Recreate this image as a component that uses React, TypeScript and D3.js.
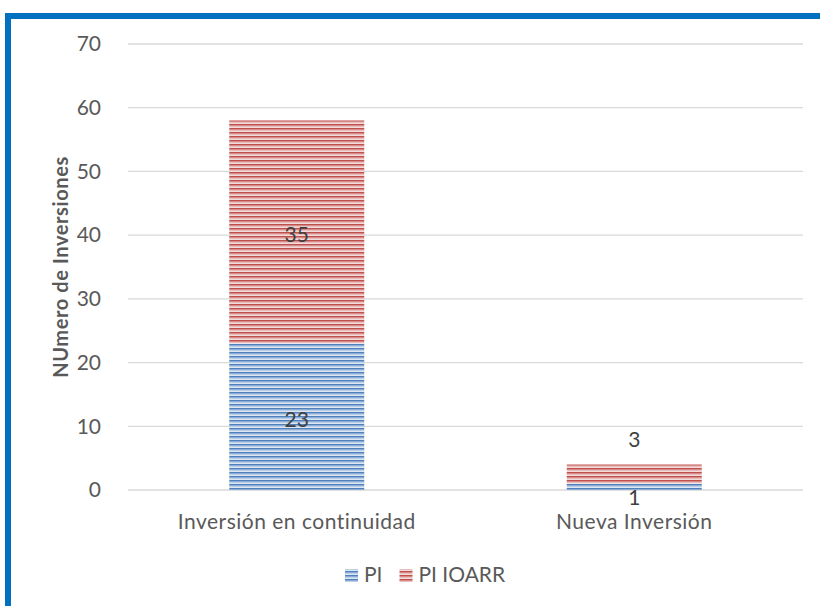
import { useRef, useEffect } from 'react';
import * as d3 from 'd3';

const categories = ['Inversión en continuidad', 'Nueva Inversión'];
const seriesNames = ['PI', 'PI IOARR'];
const piValues = [23, 1];
const ioarrValues = [35, 3];
const yTicks = [0, 10, 20, 30, 40, 50, 60, 70];

const colors = {
  PI: { dark: '#4F81BD', light: '#DCE6F2', mid: '#8EAEDA' },
  'PI IOARR': { dark: '#C0504D', light: '#F2DCDB', mid: '#DA8F8D' },
};

const W = 820;
const H = 606;

export default function App() {
  const svgRef = useRef<SVGSVGElement>(null);

  useEffect(() => {
    const svg = d3.select(svgRef.current);
    svg.selectAll('*').remove();

    const font = "Lato, 'Open Sans', sans-serif";
    const textColor = '#595959';
    const margin = { top: 44, right: 17, bottom: 116, left: 128 };
    const plotW = W - margin.left - margin.right;
    const plotH = H - margin.top - margin.bottom;

    // stripe patterns
    const defs = svg.append('defs');
    for (const name of seriesNames) {
      const c = colors[name as keyof typeof colors];
      const p = defs
        .append('pattern')
        .attr('id', `stripe-${name.replace(/\s/g, '')}`)
        .attr('patternUnits', 'userSpaceOnUse')
        .attr('width', 8)
        .attr('height', 4);
      p.append('rect').attr('width', 8).attr('height', 4).attr('fill', c.light);
      p.append('rect').attr('y', 0).attr('width', 8).attr('height', 1.6).attr('fill', c.dark);
      p.append('rect').attr('y', 1.6).attr('width', 8).attr('height', 0.8).attr('fill', c.mid);
    }

    // frame
    svg
      .append('rect')
      .attr('x', 8)
      .attr('y', 16)
      .attr('width', W + 20)
      .attr('height', H + 20)
      .attr('fill', 'white')
      .attr('stroke', '#0070C0')
      .attr('stroke-width', 6);

    const g = svg.append('g').attr('transform', `translate(${margin.left},${margin.top})`);

    const x = d3.scaleBand().domain(categories).range([0, plotW]).paddingInner(0.6).paddingOuter(0.3);
    const y = d3.scaleLinear().domain([0, 70]).range([plotH, 0]);

    // gridlines
    g.selectAll('line.grid')
      .data(yTicks)
      .join('line')
      .attr('class', 'grid')
      .attr('x1', 0)
      .attr('x2', plotW)
      .attr('y1', (d) => y(d))
      .attr('y2', (d) => y(d))
      .attr('stroke', '#D9D9D9')
      .attr('stroke-width', 1.3);

    // tick labels
    g.selectAll('text.tick')
      .data(yTicks)
      .join('text')
      .attr('class', 'tick')
      .attr('x', -27)
      .attr('y', (d) => y(d))
      .attr('dy', '0.35em')
      .attr('text-anchor', 'end')
      .attr('fill', textColor)
      .attr('font-size', 21)
      .attr('font-family', font)
      .text((d) => d);

    // stacked bars
    const stack = categories.map((cat, i) => ({
      cat,
      segs: [
        { name: 'PI', y0: 0, y1: piValues[i], v: piValues[i] },
        { name: 'PI IOARR', y0: piValues[i], y1: piValues[i] + ioarrValues[i], v: ioarrValues[i] },
      ],
    }));

    for (const s of stack) {
      const bx = x(s.cat) ?? 0;
      for (const seg of s.segs) {
        g.append('rect')
          .attr('x', bx)
          .attr('y', y(seg.y1))
          .attr('width', x.bandwidth())
          .attr('height', y(seg.y0) - y(seg.y1))
          .attr('fill', `url(#stripe-${seg.name.replace(/\s/g, '')})`);

        // labels: centered, or outside when the segment is too thin
        const segH = y(seg.y0) - y(seg.y1);
        let ly = (y(seg.y0) + y(seg.y1)) / 2 + 3;
        if (segH < 25) {
          ly = seg.name === 'PI' ? y(seg.y0) + 8 : y(seg.y1) - 25;
        }
        g.append('text')
          .attr('x', bx + x.bandwidth() / 2)
          .attr('y', ly)
          .attr('dy', '0.35em')
          .attr('text-anchor', 'middle')
          .attr('fill', '#404040')
          .attr('font-size', 21)
          .attr('font-family', font)
          .text(seg.v);
      }
    }

    // category labels
    g.selectAll('text.cat')
      .data(categories)
      .join('text')
      .attr('class', 'cat')
      .attr('x', (d) => (x(d) ?? 0) + x.bandwidth() / 2)
      .attr('y', plotH + 32)
      .attr('dy', '0.35em')
      .attr('text-anchor', 'middle')
      .attr('fill', textColor)
      .attr('font-size', 21)
      .attr('letter-spacing', 0.5)
      .attr('font-family', font)
      .text((d) => d);

    // axis title
    svg
      .append('text')
      .attr('transform', `translate(61,${margin.top + plotH / 2}) rotate(-90)`)
      .attr('dy', '0.35em')
      .attr('text-anchor', 'middle')
      .attr('fill', textColor)
      .attr('font-size', 20)
      .attr('font-weight', 700)
      .attr('letter-spacing', 0.6)
      .attr('font-family', font)
      .text('NUmero de Inversiones');

    // legend
    const legend = svg.append('g').attr('transform', 'translate(345,575)');
    let lx = 0;
    seriesNames.forEach((name) => {
      legend
        .append('rect')
        .attr('x', lx)
        .attr('y', -6)
        .attr('width', 13)
        .attr('height', 13)
        .attr('fill', `url(#stripe-${name.replace(/\s/g, '')})`);
      const t = legend
        .append('text')
        .attr('x', lx + 19)
        .attr('y', 0)
        .attr('dy', '0.35em')
        .attr('fill', textColor)
        .attr('font-size', 21)
        .attr('font-family', font)
        .text(name);
      const tw = (t.node() as SVGTextElement).getComputedTextLength();
      lx += 19 + tw + 17;
    });
  }, []);

  return (
    <svg
      ref={svgRef}
      width={W}
      height={H}
      viewBox={`0 0 ${W} ${H}`}
      style={{ position: 'absolute', left: 0, top: 0, display: 'block' }}
    />
  );
}
